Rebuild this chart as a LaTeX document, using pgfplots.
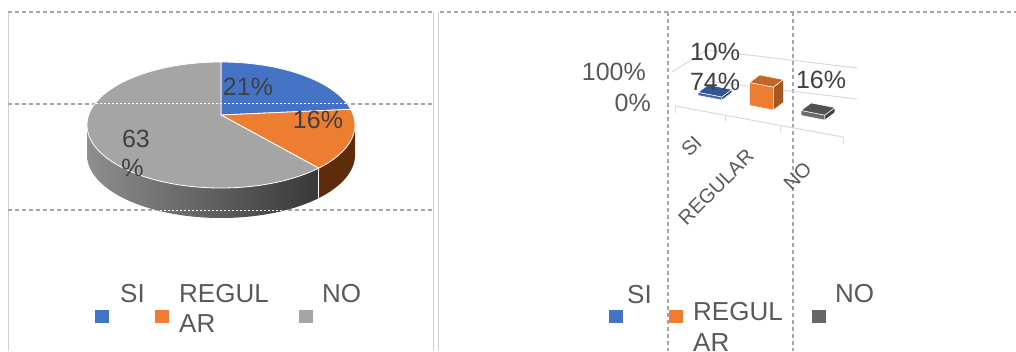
\documentclass[border=0pt]{standalone}
\usepackage{pgfplots}
\pgfplotsset{compat=1.18}
\usepackage{fontspec}
\setmainfont{Liberation Sans}
\definecolor{cblue}{HTML}{4472C4}
\definecolor{corange}{HTML}{ED7D31}
\definecolor{cgray}{HTML}{A5A5A5}
\definecolor{cdark}{HTML}{666666}
\definecolor{txt}{HTML}{595959}
\definecolor{dtxt}{HTML}{404040}
\definecolor{dashc}{HTML}{A6A6A6}
\definecolor{gridc}{HTML}{D9D9D9}
\definecolor{bordc}{HTML}{D0D0D0}
\definecolor{sideL}{HTML}{8E8E8E}
\definecolor{sideR}{HTML}{383838}
\definecolor{oside}{HTML}{5E2C0B}

\pgfplotsset{pix/.style={at={(0pt,0pt)},anchor=south west,width=1016pt,height=351pt,
  scale only axis,xmin=0,xmax=1016,ymin=0,ymax=351,hide axis,clip=false}}
\newcommand\lf{\fontsize{26}{30}\selectfont}
\newcommand\vf{\fontsize{25}{29}\selectfont}
\newcommand\cf{\fontsize{20}{24}\selectfont}

% pie values (percent)
\def\vSI{21}\def\vREG{16}\def\vNO{63}
\pgfmathsetmacro\aA{90-3.6*\vSI}
\pgfmathsetmacro\aB{\aA-3.6*\vREG}
\pgfmathsetmacro\aC{\aB-3.6*\vNO}
\pgfmathsetmacro\aBB{\aB+360}
\pgfmathsetmacro\xA{221+134*cos(\aA)}\pgfmathsetmacro\yA{226+63*sin(\aA)}
\pgfmathsetmacro\xB{221+134*cos(\aB)}\pgfmathsetmacro\yB{226+63*sin(\aB)}
\pgfmathsetmacro\yBd{\yB-30}

% 3D bar: x0 x1 value front side top
\newcommand\cube[6]{%
\addplot3[no marks,fill=#4,draw=white,line width=0.5pt] coordinates {(#1,0.35,0) (#2,0.35,0) (#2,0.35,#3) (#1,0.35,#3)} -- cycle;
\addplot3[no marks,fill=#5,draw=white,line width=0.5pt] coordinates {(#2,0.35,0) (#2,0.65,0) (#2,0.65,#3) (#2,0.35,#3)} -- cycle;
\addplot3[no marks,fill=#6,draw=white,line width=0.5pt] coordinates {(#1,0.35,#3) (#2,0.35,#3) (#2,0.65,#3) (#1,0.65,#3)} -- cycle;
}

\begin{document}
\begin{tikzpicture}
\path[use as bounding box] (0,0) rectangle (1016pt,351pt);
%---------------- base layer
\begin{axis}[pix]
% frames
\draw[bordc,line width=0.8pt] (axis cs:8,339) -- (axis cs:8,0);
\draw[bordc,line width=0.8pt] (axis cs:433,339) -- (axis cs:433,0);
\draw[bordc,line width=0.8pt] (axis cs:438,339) -- (axis cs:438,0);
\draw[dashc,line width=1.1pt,dash pattern=on 4pt off 3pt] (axis cs:8,339) -- (axis cs:432,339);
\draw[dashc,line width=1.1pt,dash pattern=on 4pt off 3pt] (axis cs:440,339) -- (axis cs:1016,339);
\draw[dashc,line width=1.1pt,dash pattern=on 4pt off 3pt] (axis cs:8,247) -- (axis cs:432,247);
\draw[dashc,line width=1.1pt,dash pattern=on 4pt off 3pt] (axis cs:8,141) -- (axis cs:432,141);
\draw[dashc,line width=1.1pt,dash pattern=on 4pt off 3pt] (axis cs:668,339) -- (axis cs:668,0);
\draw[dashc,line width=1.1pt,dash pattern=on 4pt off 3pt] (axis cs:793,339) -- (axis cs:793,0);
% pie side
\shade[left color=sideL,right color=sideR] (axis cs:87,226) arc[start angle=180,end angle=\aBB,x radius=134pt,y radius=63pt]
  -- (axis cs:\xB,\yBd) arc[start angle=\aBB,end angle=180,x radius=134pt,y radius=63pt] -- cycle;
\fill[oside] (axis cs:\xB,\yB) arc[start angle=\aBB,end angle=360,x radius=134pt,y radius=63pt]
  -- (axis cs:355,196) arc[start angle=360,end angle=\aBB,x radius=134pt,y radius=63pt] -- cycle;
\draw[white,line width=1pt] (axis cs:\xB,\yB) -- (axis cs:\xB,\yBd);
% pie top
\filldraw[fill=cblue,draw=white,line width=0.8pt] (axis cs:221,236) -- (axis cs:221,289) arc[start angle=90,end angle=\aA,x radius=134pt,y radius=63pt] -- cycle;
\filldraw[fill=corange,draw=white,line width=0.8pt] (axis cs:221,236) -- (axis cs:\xA,\yA) arc[start angle=\aA,end angle=\aB,x radius=134pt,y radius=63pt] -- cycle;
\filldraw[fill=cgray,draw=white,line width=0.8pt] (axis cs:221,236) -- (axis cs:\xB,\yB) arc[start angle=\aB,end angle=\aC,x radius=134pt,y radius=63pt] -- cycle;
\begin{scope}
\clip (axis cs:221,226) ellipse[x radius=134pt,y radius=63pt];
\draw[white,line width=1pt,dash pattern=on 1.5pt off 2.5pt] (axis cs:8,247) -- (axis cs:432,247);
\end{scope}
\begin{scope}
\clip (axis cs:221,196) ellipse[x radius=134pt,y radius=63pt];
\draw[white,line width=1pt,dash pattern=on 1.5pt off 2.5pt] (axis cs:8,141) -- (axis cs:432,141);
\end{scope}
% pie labels
\node[font=\vf,text=dtxt,inner sep=0] at (axis cs:248,264.5) {21\%};
\node[font=\vf,text=dtxt,inner sep=0] at (axis cs:318,231) {16\%};
\node[font=\vf,text=dtxt,inner sep=0] at (axis cs:136,212.5) {63};
\node[font=\vf,text=dtxt,inner sep=0] at (axis cs:132.5,183.5) {\%};
% left legend
\fill[cblue] (axis cs:95,28) rectangle (axis cs:109,41);
\fill[corange] (axis cs:155,28) rectangle (axis cs:169,41);
\fill[cgray] (axis cs:299,28) rectangle (axis cs:313,41);
\node[font=\lf,text=txt,inner sep=0,anchor=base west] at (axis cs:120,49) {SI};
\node[font=\lf,text=txt,inner sep=0,anchor=base west] at (axis cs:179,49) {REGUL};
\node[font=\lf,text=txt,inner sep=0,anchor=base west] at (axis cs:179,19) {AR};
\node[font=\lf,text=txt,inner sep=0,anchor=base west] at (axis cs:322,49) {NO};
% bar chart walls / floor
\draw[gridc,line width=1pt] (axis cs:672,279) -- (axis cs:707,301) -- (axis cs:857,283);
\draw[gridc,line width=1pt] (axis cs:707,270) -- (axis cs:857,252);
\draw[gridc,line width=1pt] (axis cs:675,245) -- (axis cs:843,214);
\draw[gridc,line width=1pt] (axis cs:675,245) -- (axis cs:675,238);
\draw[gridc,line width=1pt] (axis cs:725,235.8) -- (axis cs:725,228.8);
\draw[gridc,line width=1pt] (axis cs:780,225.6) -- (axis cs:780,218.6);
\draw[gridc,line width=1pt] (axis cs:843,214) -- (axis cs:843,207);
% bar axis labels
\node[font=\vf,text=txt,inner sep=0,anchor=east] at (axis cs:646,279) {100\%};
\node[font=\vf,text=txt,inner sep=0,anchor=east] at (axis cs:651,248) {0\%};
\node[font=\cf,text=txt,inner sep=0,rotate=45] at (axis cs:691.5,205) {SI};
\node[font=\cf,text=txt,inner sep=0,rotate=45] at (axis cs:716,164) {REGULAR};
\node[font=\cf,text=txt,inner sep=0,rotate=45] at (axis cs:797.5,175) {NO};
% right legend
\fill[cblue] (axis cs:609,28) rectangle (axis cs:623,41);
\fill[corange] (axis cs:669,28) rectangle (axis cs:683,41);
\fill[cdark] (axis cs:812,28) rectangle (axis cs:826,41);
\node[font=\lf,text=txt,inner sep=0,anchor=base west] at (axis cs:627,48) {SI};
\node[font=\lf,text=txt,inner sep=0,anchor=base west] at (axis cs:693,31) {REGUL};
\node[font=\lf,text=txt,inner sep=0,anchor=base west] at (axis cs:693,0) {AR};
\node[font=\lf,text=txt,inner sep=0,anchor=base west] at (axis cs:835,49) {NO};
\end{axis}
%---------------- 3D bars
\begin{axis}[at={(672.75pt,249.5pt)},anchor=origin,
  x={(51.5pt,-10pt)},y={(33pt,25pt)},z={(0pt,0.31pt)},
  xmin=0,xmax=3,ymin=0,ymax=1,zmin=0,zmax=100,hide axis,clip=false]
\cube{0.27}{0.73}{10}{cblue!90!black}{cblue!60!black}{cblue!75!black}
\cube{1.27}{1.73}{74}{corange}{corange!70!black}{corange!82!black}
\cube{2.27}{2.73}{16}{black!58}{black!75}{black!68}
\end{axis}
%---------------- data labels on top
\begin{axis}[pix]
\node[font=\vf,text=dtxt,inner sep=0] at (axis cs:715,299) {10\%};
\node[font=\vf,text=dtxt,inner sep=0] at (axis cs:715,269) {74\%};
\node[font=\vf,text=dtxt,inner sep=0] at (axis cs:821,271) {16\%};
\end{axis}
\end{tikzpicture}
\end{document}
